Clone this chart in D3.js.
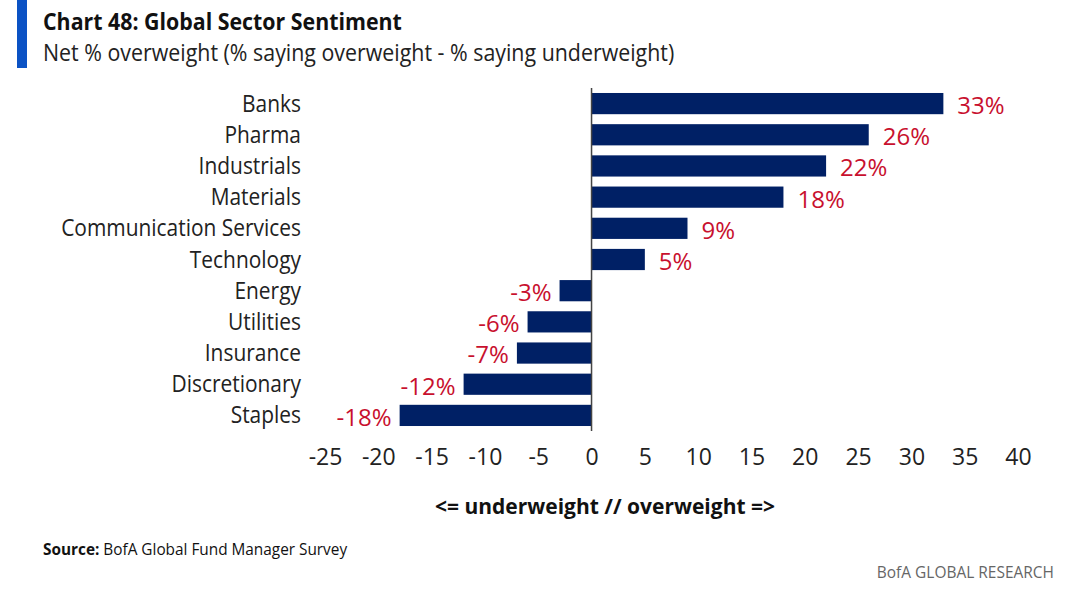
<!DOCTYPE html>
<html lang="en">
<head>
<meta charset="UTF-8">
<script src="https://cdn.jsdelivr.net/npm/d3@7/dist/d3.min.js"></script>
<title>Global Sector Sentiment</title>
<style>
  body { margin: 0; background: #fff; }
  svg { display: block; font-family: "Open Sans", "Liberation Sans", sans-serif; }
</style>
</head>
<body>
<div id="chart"></div>
<script>
  const sectors = ["Banks", "Pharma", "Industrials", "Materials", "Communication Services",
                   "Technology", "Energy", "Utilities", "Insurance", "Discretionary", "Staples"];
  const netOverweight = [33, 26, 22, 18, 9, 5, -3, -6, -7, -12, -18];
  const xTicks = [-25, -20, -15, -10, -5, 0, 5, 10, 15, 20, 25, 30, 35, 40];

  const width = 1080, height = 597;
  const data = sectors.map((s, i) => ({ sector: s, value: netOverweight[i] }));

  // squeeze text horizontally round an anchor x, the original font is condensed
  const squeeze = (ax, k) => `translate(${ax},0) scale(${k},1) translate(${-ax},0)`;

  const svg = d3.select("#chart").append("svg")
                .attr("width", width).attr("height", height);

  const x = d3.scaleLinear().domain([-25, 40]).range([325, 1018]);
  const y = d3.scaleBand().domain(sectors).range([88, 431]).paddingInner(0.32).paddingOuter(0.16);

  // header
  svg.append("rect").attr("x", 17).attr("y", 0).attr("width", 10).attr("height", 68).attr("fill", "#0b52c4");
  svg.append("text").attr("x", 43).attr("y", 30)
     .attr("font-size", 24).attr("font-weight", "bold").attr("fill", "#111")
     .attr("transform", squeeze(43, 0.89))
     .text("Chart 48: Global Sector Sentiment");
  svg.append("text").attr("x", 43).attr("y", 61)
     .attr("font-size", 23).attr("fill", "#222")
     .attr("transform", squeeze(43, 0.93))
     .text("Net % overweight (% saying overweight - % saying underweight)");

  // bars
  svg.append("g").selectAll("rect").data(data).enter().append("rect")
     .attr("x", d => x(Math.min(0, d.value)))
     .attr("y", d => y(d.sector))
     .attr("width", d => Math.abs(x(d.value) - x(0)))
     .attr("height", y.bandwidth())
     .attr("fill", "#002065");

  // zero line
  svg.append("line").attr("x1", x(0)).attr("x2", x(0)).attr("y1", 88).attr("y2", 431)
     .attr("stroke", "#444").attr("stroke-width", 1.5);

  // category labels
  svg.append("g").selectAll("text").data(data).enter().append("text")
     .attr("x", 301).attr("y", d => y(d.sector) + y.bandwidth() / 2)
     .attr("dy", "0.35em").attr("text-anchor", "end")
     .attr("font-size", 23).attr("fill", "#222")
     .attr("transform", squeeze(301, 0.91))
     .text(d => d.sector);

  // value labels
  svg.append("g").selectAll("text").data(data).enter().append("text")
     .attr("x", d => d.value >= 0 ? x(d.value) + 14 : x(d.value) - 8)
     .attr("y", d => y(d.sector) + y.bandwidth() / 2 + 2)
     .attr("dy", "0.35em")
     .attr("text-anchor", d => d.value >= 0 ? "start" : "end")
     .attr("font-size", 24).attr("fill", "#c8102e")
     .text(d => d.value + "%");

  // x axis
  const xAxis = d3.axisBottom(x).tickValues(xTicks).tickSize(0).tickPadding(0).tickFormat(d => d);
  const gx = svg.append("g").attr("transform", "translate(0,449)").call(xAxis);
  gx.select(".domain").remove();
  gx.selectAll("text").attr("font-size", 23).attr("fill", "#222")
    .attr("font-family", "'Open Sans', sans-serif").attr("dy", "0.71em");

  svg.append("text").attr("x", 605).attr("y", 514).attr("text-anchor", "middle")
     .attr("font-size", 22).attr("font-weight", "bold").attr("fill", "#111")
     .attr("transform", squeeze(605, 0.955))
     .text("<= underweight // overweight =>");

  // footer
  const src = svg.append("text").attr("x", 43).attr("y", 555).attr("font-size", 16).attr("fill", "#111")
     .attr("transform", squeeze(43, 0.96));
  src.append("tspan").attr("font-weight", "bold").text("Source:");
  src.append("tspan").text(" BofA Global Fund Manager Survey");

  svg.append("text").attr("x", 1054).attr("y", 578).attr("text-anchor", "end")
     .attr("font-size", 17).attr("fill", "#666")
     .attr("transform", squeeze(1054, 0.91))
     .text("BofA GLOBAL RESEARCH");
</script>
</body>
</html>
